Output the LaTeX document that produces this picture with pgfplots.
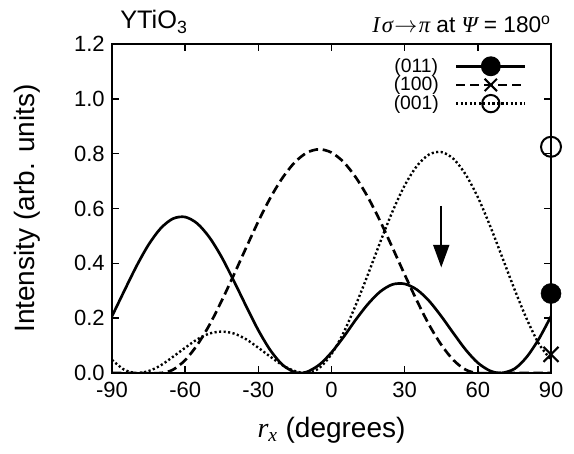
\documentclass[border=0pt]{standalone}
\usepackage{fontspec}
\setmainfont{Liberation Sans}
\newfontfamily\serifit{Liberation Serif}
\usepackage{pgfplots}
\pgfplotsset{compat=1.18}
\usetikzlibrary{arrows.meta}

\begin{document}
\begin{tikzpicture}
\useasboundingbox (-84pt,-60pt) rectangle (346.5pt,279.75pt);
\begin{axis}[
  at={(0,0)}, anchor=south west,
  scale only axis, width=329.25pt, height=246.75pt,
  xmin=-90, xmax=90, ymin=0, ymax=1.2,
  xtick={-90,-60,-30,0,30,60,90},
  xticklabels={-90,-60,-30,0,30,60,90},
  ytick={0,0.2,0.4,0.6,0.8,1.0,1.2},
  yticklabels={0.0,0.2,0.4,0.6,0.8,1.0,1.2},
  tick align=inside, tick pos=both, major tick length=5pt,
  axis line style={line width=1.7pt},
  tick style={line width=1.2pt, black},
  tick label style={font=\fontsize{16.5}{18}\selectfont},
  xticklabel style={yshift=-3pt},
  yticklabel style={xshift=-2pt},
  xlabel={{\serifit\itshape r}\textsubscript{\serifit\itshape x} (degrees)},
  ylabel={Intensity (arb. units)},
  label style={font=\fontsize{21}{24}\selectfont},
  xlabel style={at={(axis description cs:0.5,-0.173)}, anchor=center},
  ylabel style={at={(axis description cs:-0.194,0.5)}, anchor=center},
  clip mode=individual,
  legend plot pos=right,
  legend style={at={(rel axis cs:1,1)}, anchor=north east, xshift=-18pt, yshift=-10pt,
    draw=none, fill=none, inner sep=0pt, row sep=1.5pt, column sep=12pt,
    font=\fontsize{14.5}{15}\selectfont,
    nodes={inner sep=0pt}},
  legend image code/.code={\draw[mark repeat=2,mark phase=2] plot coordinates {(0pt,0pt) (26pt,0pt) (52pt,0pt)};}
]
\addlegendimage{black, line width=1.9pt, mark=*, mark size=6.5pt, mark options={solid}}
\addlegendentry{(011)}
\addlegendimage{black, line width=1.9pt, dash pattern=on 7pt off 3.5pt, mark=x, mark size=6.5pt, mark options={solid, line width=1.5pt}}
\addlegendentry{(100)}
\addlegendimage{black, line width=1.8pt, dash pattern=on 1.6pt off 1.8pt, mark=o, mark size=6.5pt, mark options={solid, line width=1.5pt}}
\addlegendentry{(001)}

% (011)
\addplot[forget plot, black, line width=2pt, smooth] coordinates {
 (-90,0.207) (-85,0.299) (-80,0.389) (-75,0.468) (-70,0.528) (-65,0.563) (-60,0.569)
 (-55,0.545) (-50,0.494) (-45,0.422) (-40,0.335) (-35,0.244) (-30,0.156) (-25,0.082)
 (-20,0.029) (-15,0.002) (-13,0) (-10,0.004) (-5,0.030) (0,0.075) (5,0.132) (10,0.195)
 (15,0.252) (20,0.297) (25,0.323) (30,0.325) (35,0.304) (40,0.263) (45,0.207) (50,0.145)
 (55,0.085) (60,0.037) (65,0.008) (69.5,0) (75,0.015) (80,0.058) (85,0.124) (90,0.207)};
% (100)
\addplot[forget plot, black, line width=2pt, dash pattern=on 7pt off 3.5pt, smooth] coordinates {
 (-90,0) (-80,0) (-70,0) (-65,0.012) (-60,0.047) (-55,0.103) (-50,0.176) (-45,0.264)
 (-40,0.359) (-35,0.457) (-30,0.553) (-25,0.640) (-20,0.713) (-15,0.769) (-10,0.804)
 (-5,0.816) (0,0.804) (5,0.769) (10,0.713) (15,0.640) (20,0.553) (25,0.457) (30,0.359)
 (35,0.264) (40,0.176) (45,0.103) (50,0.047) (55,0.012) (60,0) (70,0) (80,0) (90,0)};
% (001)
\addplot[forget plot, black, line width=1.8pt, dash pattern=on 1.6pt off 1.8pt, smooth] coordinates {
 (-90,0.048) (-85,0.012) (-80,0) (-75,0.007) (-70,0.028) (-65,0.059) (-60,0.092)
 (-55,0.123) (-50,0.144) (-45,0.151) (-40,0.144) (-35,0.123) (-30,0.092) (-25,0.059)
 (-20,0.028) (-15,0.007) (-10,0) (-5,0.018) (0,0.069) (5,0.148) (10,0.249) (15,0.361)
 (20,0.478) (25,0.589) (30,0.684) (35,0.755) (40,0.797) (45,0.806) (50,0.781) (55,0.724)
 (60,0.641) (65,0.537) (70,0.422) (75,0.306) (80,0.198) (85,0.107) (90,0.048)};

% data points at 90 degrees
\addplot[forget plot, clip=false, only marks, mark=*, mark size=7.5pt, black] coordinates {(90,0.29)};
\addplot[forget plot, clip=false, only marks, mark=x, mark size=8pt, black, mark options={line width=1.5pt}] coordinates {(90,0.068)};
\addplot[forget plot, clip=false, only marks, mark=o, mark size=7.5pt, black, mark options={line width=1.5pt}] coordinates {(90,0.825)};

\draw[black, line width=1.6pt, -{Triangle[length=17pt,width=12pt]}] (axis cs:45,0.61) -- (axis cs:45,0.385);
\end{axis}
\node[anchor=base west, font=\fontsize{19}{21}\selectfont, inner sep=0pt] at (6pt,258pt) {YTiO\textsubscript{3}};
\node[anchor=base east, font=\fontsize{17}{20}\selectfont, inner sep=0pt] at (329.25pt,255pt)
  {{\serifit\itshape I\kern1.5pt σ}\kern1pt$\rightarrow$\kern1pt{\serifit\itshape π} at {\serifit\itshape Ψ} = 180\textsuperscript{o}};
\end{tikzpicture}
\end{document}
